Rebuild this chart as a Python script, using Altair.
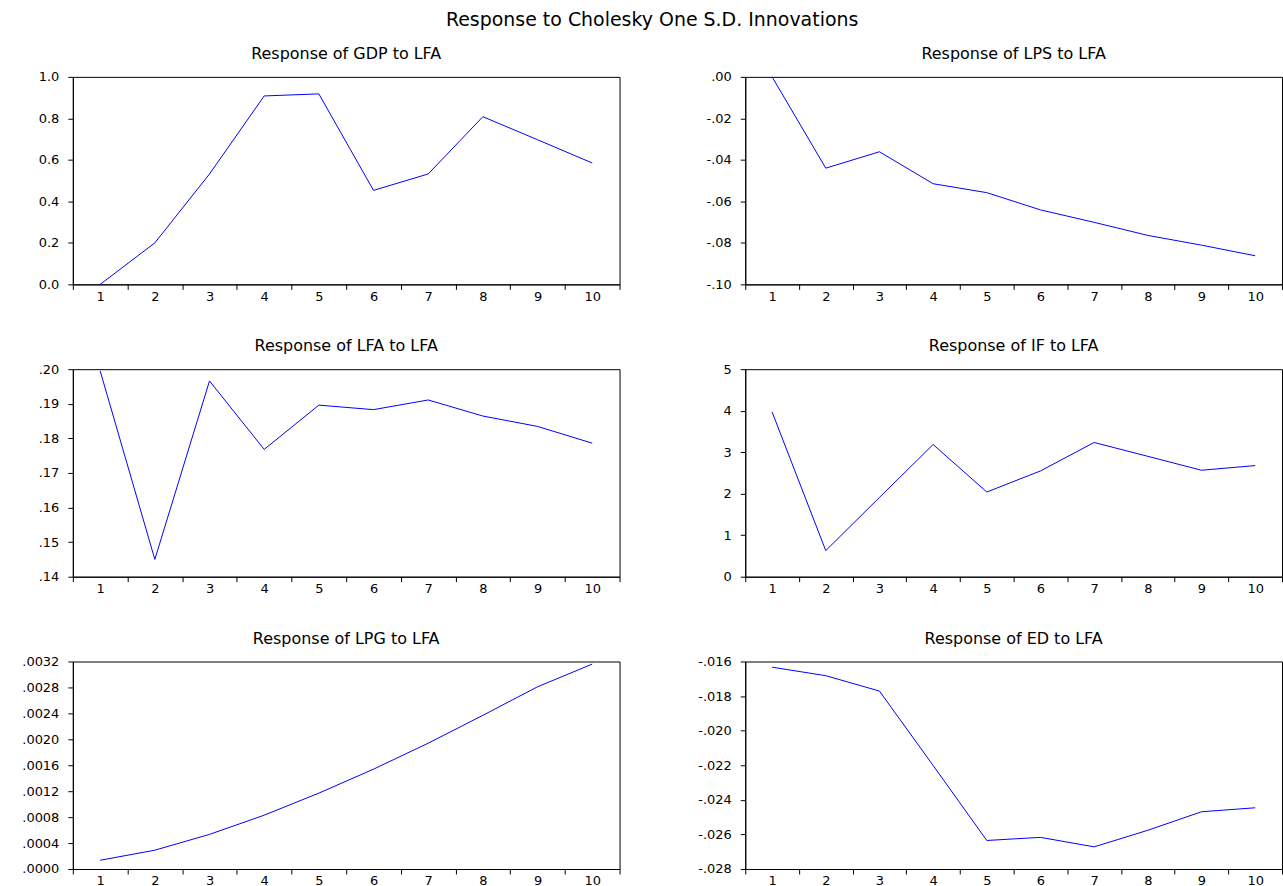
import altair as alt
import pandas as pd

# Forecast horizon (periods after the shock)
periods = list(range(1, 11))

# Impulse responses to a one-S.D. LFA shock
gdp_resp = [0.0, 0.20, 0.532, 0.908, 0.918, 0.453, 0.532, 0.808, 0.697, 0.585]
lps_resp = [0.0, -0.0440, -0.0361, -0.0515, -0.0558, -0.0641, -0.0701, -0.0764, -0.0811, -0.0862]
lfa_resp = [0.1995, 0.1450, 0.1966, 0.1768, 0.1896, 0.1883, 0.1911, 0.18645, 0.18345, 0.17861]
if_resp = [3.968, 0.629, 1.91, 3.185, 2.040, 2.548, 3.234, 2.90, 2.565, 2.677]
lpg_resp = [0.000135, 0.00029, 0.000534, 0.00083, 0.00117, 0.00154, 0.00194, 0.00237, 0.00281, 0.00316]
ed_resp = [-0.01633, -0.01682, -0.01771, -0.02201, -0.02635, -0.02617, -0.02672, -0.02576, -0.02469, -0.02446]

# Y-axis tick values for each panel
gdp_ticks = [0.0, 0.2, 0.4, 0.6, 0.8, 1.0]
lps_ticks = [-0.10, -0.08, -0.06, -0.04, -0.02, 0.00]
lfa_ticks = [0.14, 0.15, 0.16, 0.17, 0.18, 0.19, 0.20]
if_ticks = [0, 1, 2, 3, 4, 5]
lpg_ticks = [0.0, 0.0004, 0.0008, 0.0012, 0.0016, 0.0020, 0.0024, 0.0028, 0.0032]
ed_ticks = [-0.028, -0.026, -0.024, -0.022, -0.020, -0.018, -0.016]

FONT = "DejaVu Sans"
PLOT_H = 208


def panel(title, values, ticks, fmt, strip_zero, width):
    df = pd.DataFrame({"period": periods, "response": values})
    label = f"replace(format(datum.value, '{fmt}'), '\u2212', '-')"
    if strip_zero:
        label = f"replace({label}, '0.', '.')"
    return (
        alt.Chart(
            df,
            title=alt.TitleParams(
                title, font=FONT, fontSize=16, fontWeight="normal",
                color="black", anchor="middle", offset=9,
            ),
        )
        .mark_line(color="#0000FF", strokeWidth=1)
        .encode(
            x=alt.X(
                "period:O",
                scale=alt.Scale(type="band", paddingInner=0, paddingOuter=0),
                axis=alt.Axis(title=None, labelAngle=0, tickBand="extent",
                              labelPadding=1),
            ),
            y=alt.Y(
                "response:Q",
                scale=alt.Scale(domain=[min(ticks), max(ticks)], nice=False, zero=False),
                axis=alt.Axis(title=None, values=ticks, labelExpr=label,
                              labelPadding=9),
            ),
        )
        .properties(width=width, height=PLOT_H)
    )


LEFT_W = 548
RIGHT_W = 538

charts = [
    panel("Response of GDP to LFA", gdp_resp, gdp_ticks, ".1f", False, LEFT_W),
    panel("Response of LPS to LFA", lps_resp, lps_ticks, ".2f", True, RIGHT_W),
    panel("Response of LFA to LFA", lfa_resp, lfa_ticks, ".2f", True, LEFT_W),
    panel("Response of IF to LFA", if_resp, if_ticks, "d", False, RIGHT_W),
    panel("Response of LPG to LFA", lpg_resp, lpg_ticks, ".4f", True, LEFT_W),
    panel("Response of ED to LFA", ed_resp, ed_ticks, ".3f", True, RIGHT_W),
]

chart = (
    alt.concat(*charts, columns=2, spacing={"row": 33, "column": 76})
    .properties(
        title=alt.TitleParams(
            "Response to Cholesky One S.D. Innovations",
            font=FONT, fontSize=19, fontWeight="normal", color="black",
            anchor="middle", offset=15,
        ),
        padding={"left": 21, "top": 10, "right": 0, "bottom": 0},
        background="white",
    )
    .configure_view(stroke="black", strokeWidth=1)
    .configure_axis(
        domainColor="black", tickColor="black", labelColor="black",
        labelFont=FONT, labelFontSize=13, grid=False, tickSize=5,
        domainWidth=1, tickWidth=1,
    )
)

chart.save("out.html", embed_options={"renderer": "svg", "actions": False})
